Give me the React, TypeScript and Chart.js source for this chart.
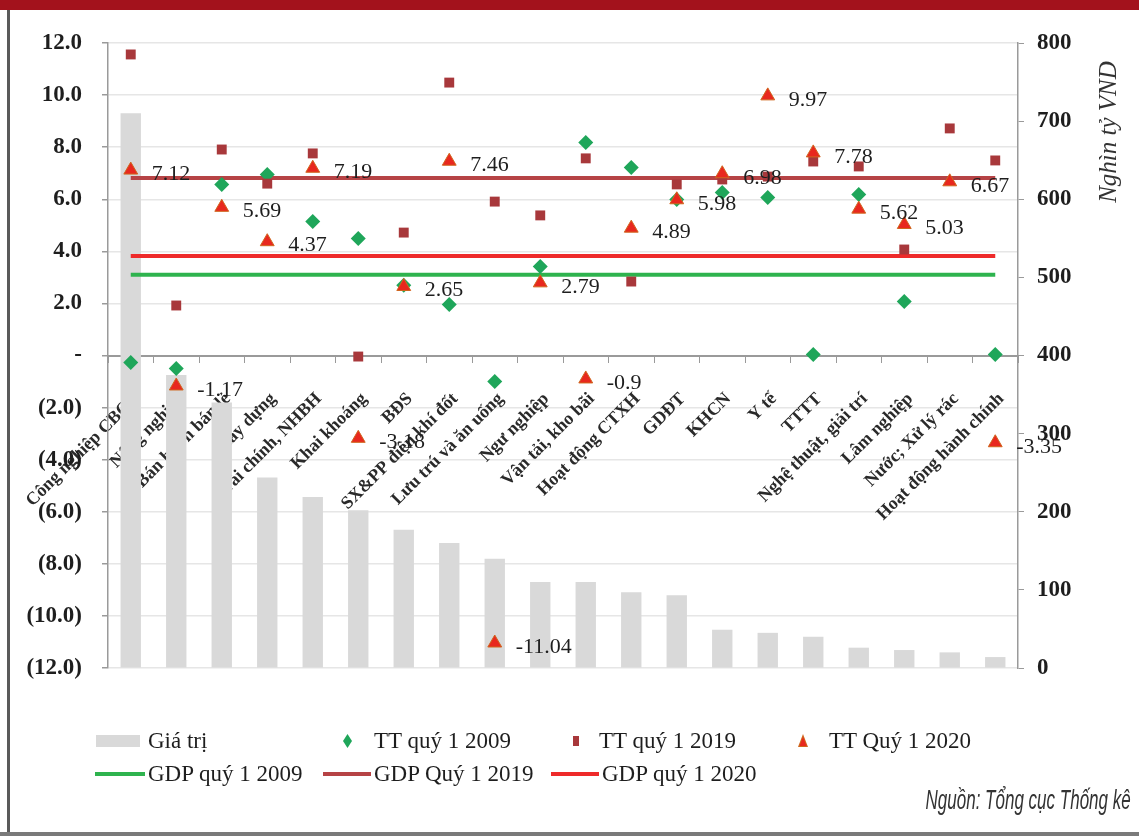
import React, { useEffect, useRef } from 'react';
import { Chart, registerables } from 'chart.js';

Chart.register(...registerables);

const categories = [
  'Công nghiệp CBCT', 'Nông nghiệp', 'Bán buôn bán lẻ', 'Xây dựng', 'Tài chính, NHBH',
  'Khai khoáng', 'BĐS', 'SX&PP điện khí đốt', 'Lưu trú và ăn uống', 'Ngư nghiệp',
  'Vận tải, kho bãi', 'Hoạt động CTXH', 'GDĐT', 'KHCN', 'Y tế',
  'TTTT', 'Nghệ thuật, giải trí', 'Lâm nghiệp', 'Nước; Xử lý rác', 'Hoạt động hành chính',
];
const giaTri = [710, 375, 340, 244, 219, 202, 177, 160, 140, 110, 110, 97, 93, 49, 45, 40, 26, 23, 20, 14];
const tt2009 = [-0.27, -0.5, 6.57, 6.95, 5.15, 4.49, 2.7, 1.96, -1.0, 3.42, 8.18, 7.22, 5.99, 6.26, 6.07, 0.04, 6.18, 2.07, null, 0.04];
const tt2019 = [11.56, 1.92, 7.91, 6.6, 7.76, -0.04, 4.72, 10.48, 5.91, 5.38, 7.57, 2.84, 6.57, 6.76, 6.87, 7.45, 7.26, 4.07, 8.72, 7.49];
const tt2020 = [7.12, -1.17, 5.69, 4.37, 7.19, -3.18, 2.65, 7.46, -11.04, 2.79, -0.9, 4.89, 5.98, 6.98, 9.97, 7.78, 5.62, 5.03, 6.67, -3.35];
const gdp2009 = 3.1;
const gdp2019 = 6.82;
const gdp2020 = 3.82;
const leftMin = -12;
const leftMax = 12;
const leftStep = 2;
const rightMin = 0;
const rightMax = 800;
const rightStep = 100;
const rightTitle = 'Nghìn tỷ VND';
const sourceText = 'Nguồn: Tổng cục Thống kê';

const SERIF = '"Liberation Serif", "Times New Roman", serif';
const C_BAR = '#D9D9D9';
const C_G09 = '#1FA65A';
const C_SQ = '#A8383B';
const C_TRI = '#E8281E';
const C_TRI_B = '#D0661E';
const C_L09 = '#2EB34E';
const C_L19 = '#B64345';
const C_L20 = '#EE2A2A';

const W = 1139;
const H = 836;

const valueLabelPlugin = {
  id: 'valueLabels',
  afterDatasetsDraw(chart: any) {
    const idx = chart.data.datasets.findIndex((d: any) => d.label === 'TT Quý 1 2020');
    if (idx < 0) return;
    const meta = chart.getDatasetMeta(idx);
    const ctx = chart.ctx;
    ctx.save();
    ctx.font = `22px ${SERIF}`;
    ctx.fillStyle = '#1e1e1e';
    ctx.textBaseline = 'middle';
    ctx.textAlign = 'left';
    meta.data.forEach((pt: any, i: number) => {
      const v = tt2020[i];
      if (v === null || v === undefined) return;
      ctx.fillText(String(v), pt.x + 21, pt.y + 4);
    });
    ctx.restore();
  },
};

const rightTitlePlugin = {
  id: 'rightTitle',
  afterDraw(chart: any) {
    const ctx = chart.ctx;
    ctx.save();
    ctx.translate(1109, 132);
    ctx.rotate(-Math.PI / 2);
    ctx.font = `italic 25px ${SERIF}`;
    ctx.fillStyle = '#333';
    ctx.textAlign = 'center';
    ctx.textBaseline = 'middle';
    ctx.fillText(rightTitle, 0, 0);
    ctx.restore();
  },
};

function fmtLeft(v: number) {
  if (Math.abs(v) < 1e-9) return '-';
  if (v < 0) return `(${Math.abs(v).toFixed(1)})`;
  return v.toFixed(1);
}

export default function App() {
  const ref = useRef<HTMLCanvasElement>(null);

  useEffect(() => {
    if (!ref.current) return;
    const flat = (v: number) => categories.map(() => v);
    const chart = new Chart(ref.current, {
      type: 'bar',
      data: {
        labels: categories,
        datasets: [
          {
            type: 'line', label: 'TT Quý 1 2020', data: tt2020, showLine: false,
            pointStyle: 'triangle', pointRadius: 8, pointBackgroundColor: C_TRI,
            pointBorderColor: C_TRI_B, pointBorderWidth: 1, yAxisID: 'y', order: 0,
          } as any,
          {
            type: 'line', label: 'TT quý 1 2019', data: tt2019, showLine: false,
            pointStyle: 'rect', pointRadius: 7, pointBackgroundColor: C_SQ,
            pointBorderColor: C_SQ, pointBorderWidth: 0, yAxisID: 'y', order: 1,
          } as any,
          {
            type: 'line', label: 'TT quý 1 2009', data: tt2009, showLine: false,
            pointStyle: 'rectRot', pointRadius: 7.5, pointBackgroundColor: C_G09,
            pointBorderColor: C_G09, pointBorderWidth: 0, yAxisID: 'y', order: 2,
          } as any,
          {
            type: 'line', label: 'GDP quý 1 2020', data: flat(gdp2020), borderColor: C_L20,
            borderWidth: 4, pointRadius: 0, yAxisID: 'y', order: 3,
          } as any,
          {
            type: 'line', label: 'GDP Quý 1 2019', data: flat(gdp2019), borderColor: C_L19,
            borderWidth: 4, pointRadius: 0, yAxisID: 'y', order: 4,
          } as any,
          {
            type: 'line', label: 'GDP quý 1 2009', data: flat(gdp2009), borderColor: C_L09,
            borderWidth: 4, pointRadius: 0, yAxisID: 'y', order: 5,
          } as any,
          {
            type: 'bar', label: 'Giá trị', data: giaTri, backgroundColor: C_BAR,
            yAxisID: 'y1', categoryPercentage: 0.8, barPercentage: 0.56, order: 10,
          } as any,
        ],
      },
      options: {
        responsive: false,
        animation: false,
        layout: { padding: { top: 43, bottom: 168, left: 0, right: 0 } },
        plugins: { legend: { display: false }, tooltip: { enabled: false } },
        scales: {
          x: {
            position: { y: 0 } as any,
            z: 1,
            grid: { display: true, drawOnChartArea: false, tickLength: 6, color: '#9a9a9a', offset: true },
            border: { color: '#9a9a9a', width: 2 },
            ticks: {
              autoSkip: false, minRotation: 45, maxRotation: 45, padding: 27, labelOffset: 6,
              color: '#2a2a2a', font: { family: SERIF, size: 18, weight: 'bold' },
            },
            afterFit: (s: any) => {
              s.height = 0;
              s.paddingLeft = 0;
              s.paddingRight = 0;
              s.paddingTop = 0;
              s.paddingBottom = 0;
            },
          },
          y: {
            position: 'left',
            min: leftMin, max: leftMax,
            ticks: {
              stepSize: leftStep, padding: 20, color: '#1e1e1e',
              font: { family: SERIF, size: 23, weight: 'bold' },
              callback: (v: any) => fmtLeft(Number(v)),
            },
            grid: { color: '#E6E6E6', tickColor: '#9a9a9a', tickLength: 6, lineWidth: 1.5 },
            border: { color: '#9a9a9a', width: 1.5 },
            afterFit: (s: any) => { s.width = 108; },
          },
          y1: {
            position: 'right',
            min: rightMin, max: rightMax,
            ticks: {
              stepSize: rightStep, padding: 13, color: '#1e1e1e',
              font: { family: SERIF, size: 23, weight: 'bold' },
            },
            grid: { drawOnChartArea: false, tickColor: '#9a9a9a', tickLength: 6 },
            border: { color: '#9a9a9a', width: 1.5 },
            afterFit: (s: any) => { s.width = 121; },
          },
        },
      } as any,
      plugins: [valueLabelPlugin, rightTitlePlugin],
    });
    return () => chart.destroy();
  }, []);

  const legendText: React.CSSProperties = {
    position: 'absolute', fontFamily: SERIF, fontSize: 23, color: '#1e1e1e',
    lineHeight: '26px', whiteSpace: 'nowrap',
  };
  const row1 = 741;
  const row2 = 774;

  return (
    <div style={{ position: 'absolute', left: 0, top: 0, width: W, height: H, background: '#fff', overflow: 'hidden' }}>
      <canvas ref={ref} width={W} height={H} style={{ position: 'absolute', left: 0, top: 0 }} />
      <div style={{ position: 'absolute', left: 0, top: 0, width: W, height: 10, background: '#A3121C' }} />
      <div style={{ position: 'absolute', left: 7, top: 10, width: 3, height: H - 10, background: '#5a5a5a' }} />
      <div style={{ position: 'absolute', left: 0, top: H - 4, width: W, height: 4, background: '#7a7a7a' }} />

      <div style={{ position: 'absolute', left: 96, top: row1 - 6, width: 44, height: 12, background: C_BAR }} />
      <div style={{ ...legendText, left: 148, top: row1 - 13 }}>Giá trị</div>
      <div style={{ position: 'absolute', left: 343, top: row1 - 7, width: 9, height: 14, background: C_G09, clipPath: 'polygon(50% 0, 100% 50%, 50% 100%, 0 50%)' }} />
      <div style={{ ...legendText, left: 374, top: row1 - 13 }}>TT quý 1 2009</div>
      <div style={{ position: 'absolute', left: 573, top: row1 - 5, width: 6, height: 10, background: C_SQ }} />
      <div style={{ ...legendText, left: 599, top: row1 - 13 }}>TT quý 1 2019</div>
      <div style={{ position: 'absolute', left: 798, top: row1 - 7, width: 10, height: 13, background: C_TRI_B, clipPath: 'polygon(50% 0, 100% 100%, 0 100%)' }} />
      <div style={{ position: 'absolute', left: 799.5, top: row1 - 4, width: 7, height: 9, background: C_TRI, clipPath: 'polygon(50% 0, 100% 100%, 0 100%)' }} />
      <div style={{ ...legendText, left: 829, top: row1 - 13 }}>TT Quý 1 2020</div>

      <div style={{ position: 'absolute', left: 95, top: row2 - 2, width: 50, height: 4, background: C_L09 }} />
      <div style={{ ...legendText, left: 148, top: row2 - 13 }}>GDP quý 1 2009</div>
      <div style={{ position: 'absolute', left: 323, top: row2 - 2, width: 48, height: 4, background: C_L19 }} />
      <div style={{ ...legendText, left: 374, top: row2 - 13 }}>GDP Quý 1 2019</div>
      <div style={{ position: 'absolute', left: 551, top: row2 - 2, width: 48, height: 4, background: C_L20 }} />
      <div style={{ ...legendText, left: 602, top: row2 - 13 }}>GDP quý 1 2020</div>

      <div style={{
        position: 'absolute', right: 8, top: 785, fontFamily: '"Liberation Sans", Arial, sans-serif',
        fontStyle: 'italic', fontSize: 27, lineHeight: '30px', color: '#333', whiteSpace: 'nowrap',
        transform: 'scaleX(0.63)', transformOrigin: 'right center',
      }}>{sourceText}</div>
    </div>
  );
}
